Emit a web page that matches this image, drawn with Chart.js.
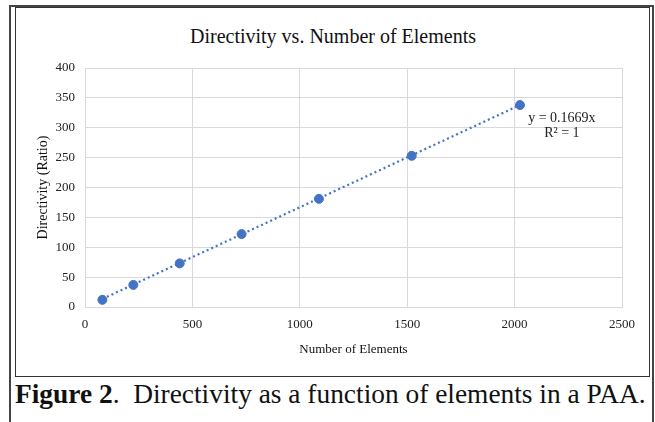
<!DOCTYPE html>
<html>
<head>
<meta charset="utf-8">
<script src="https://cdn.jsdelivr.net/npm/chart.js@4/dist/chart.umd.min.js"></script>
<style>
  html, body { margin: 0; padding: 0; background: #fff; }
  body { width: 655px; height: 422px; position: relative; overflow: hidden; }
  #outer {
    position: absolute; left: 9px; top: 5px; width: 641px; height: 430px;
    border: 2px solid #444; border-bottom: none;
  }
  #inner {
    position: absolute; left: 15px; top: 7px; width: 633px; height: 368px;
    border: 1.5px solid #333;
  }
  #title {
    position: absolute; left: 133px; width: 400px; top: 25px; text-align: center;
    font-family: "Liberation Serif", "Times New Roman", serif; font-size: 20px; color: #111;
  }
  #caption {
    position: absolute; left: 15px; top: 379px; white-space: nowrap;
    font-family: "Liberation Serif", "Times New Roman", serif; font-size: 27.4px; color: #111;
  }
  #chart { position: absolute; left: 0; top: 0; }
</style>
</head>
<body>
<div id="outer"></div>
<div id="inner"></div>
<div id="title">Directivity vs. Number of Elements</div>
<div id="caption"><b>Figure 2</b>.&nbsp; Directivity as a function of elements in a PAA.</div>
<canvas id="chart" width="655" height="422"></canvas>
<script>
// Data
const elements = [81, 225, 441, 729, 1089, 1521, 2025];
const directivity = [12, 37, 73, 122, 181, 253, 338];
// linear trendline endpoints (as drawn)
const trendX = [81, 2025];
const trendY = [13.5, 338];
const xTicks = [0, 500, 1000, 1500, 2000, 2500];
const yTicks = [0, 50, 100, 150, 200, 250, 300, 350, 400];
const trendLabel = ['y = 0.1669x', 'R\u00b2 = 1'];

const serif = '"Liberation Serif", "Times New Roman", serif';
const blue = '#4472C4';
const gridColor = '#d9d9d9';

// Draw the trendline equation next to the last point
const trendLabelPlugin = {
    id: 'trendLabel',
    afterDatasetsDraw(chart) {
        const ctx = chart.ctx;
        const x = chart.scales.x.getPixelForValue(2220);
        const y = chart.scales.y.getPixelForValue(315);
        ctx.save();
        ctx.fillStyle = '#222';
        ctx.font = '14px ' + serif;
        ctx.textAlign = 'center';
        ctx.textBaseline = 'middle';
        ctx.fillText(trendLabel[0], x, y);
        ctx.fillText(trendLabel[1], x, y + 15);
        ctx.restore();
    }
};

const ctx = document.getElementById('chart').getContext('2d');
const chart = new Chart(ctx, {
    type: 'scatter',
    data: {
        datasets: [{
            label: 'Directivity',
            data: elements.map((e, i) => ({ x: e, y: directivity[i] })),
            backgroundColor: blue,
            borderColor: blue,
            pointRadius: 4.5,
            pointHoverRadius: 4.5,
            order: 1
        }, {
            label: 'Linear trend',
            data: trendX.map((e, i) => ({ x: e, y: trendY[i] })),
            showLine: true,
            borderColor: blue,
            borderWidth: 2.2,
            borderDash: [2, 3],
            pointRadius: 0,
            order: 2
        }]
    },
    plugins: [trendLabelPlugin],
    options: {
        responsive: false,
        animation: false,
        layout: { padding: { left: 20, right: 33, top: 68, bottom: 60 } },
        plugins: {
            legend: { display: false },
            tooltip: { enabled: false },
            title: { display: false }
        },
        scales: {
            x: {
                type: 'linear',
                min: 0,
                max: 2500,
                afterBuildTicks: s => { s.ticks = xTicks.map(v => ({ value: v })); },
                afterFit: s => { s.height = 55; },
                grid: { color: gridColor, drawTicks: false },
                border: { color: gridColor },
                ticks: {
                    color: '#222', padding: 10, font: { family: serif, size: 13 },
                    callback: v => String(v)
                },
                title: {
                    display: true,
                    text: 'Number of Elements',
                    color: '#111',
                    font: { family: serif, size: 13 },
                    padding: { top: 0, bottom: 5 }
                }
            },
            y: {
                type: 'linear',
                min: 0,
                max: 400,
                afterBuildTicks: s => { s.ticks = yTicks.map(v => ({ value: v })); },
                afterFit: s => { s.width = 65; },
                grid: { color: gridColor, drawTicks: false },
                border: { color: gridColor },
                ticks: {
                    color: '#222', padding: 10, font: { family: serif, size: 13 },
                    callback: v => String(v)
                },
                title: {
                    display: true,
                    text: 'Directivity (Ratio)',
                    color: '#111',
                    font: { family: serif, size: 14 },
                    padding: { top: 15, bottom: 0 }
                }
            }
        }
    }
});
</script>
</body>
</html>
